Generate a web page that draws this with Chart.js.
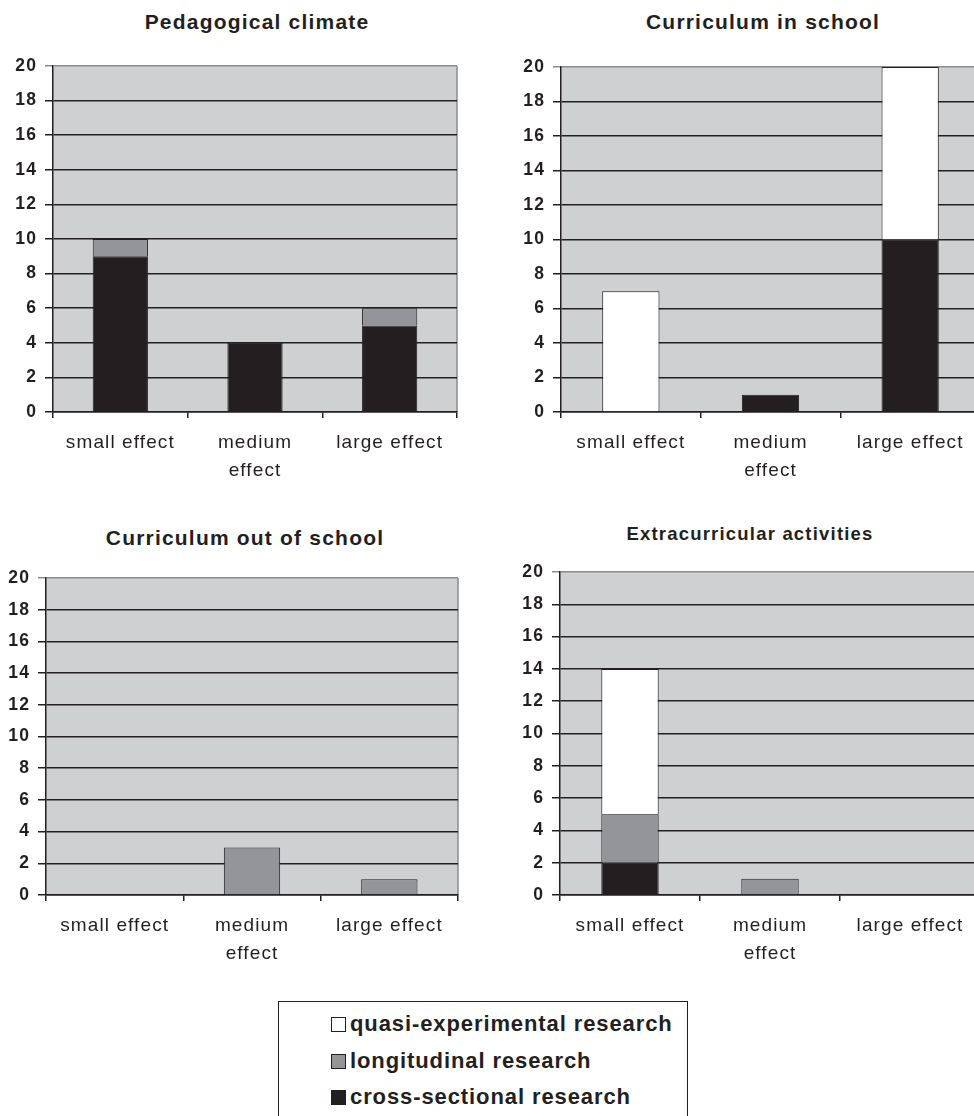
<!DOCTYPE html>
<html>
<head>
<meta charset="utf-8">
<script src="https://cdn.jsdelivr.net/npm/chart.js@4"></script>
<style>
  html, body { margin: 0; padding: 0; background: #fff; overflow: hidden; }
  body { width: 974px; height: 1116px; position: relative; font-family: "Liberation Sans", Arial, sans-serif; color: #231f20; }
  .box { position: absolute; }
  .title { position: absolute; font-weight: bold; white-space: nowrap; transform: translate(-50%, -50%); letter-spacing: 1.2px; }
  #legend { position: absolute; left: 278px; top: 1001px; width: 410px; height: 140px; border: 1.5px solid #231f20; box-sizing: border-box; }
  .item { position: absolute; left: 52px; font-weight: bold; font-size: 22px; letter-spacing: 0.9px; white-space: nowrap; transform: translateY(-50%); }
  .sw { display: inline-block; width: 15px; height: 15px; border: 1px solid #231f20; margin-right: 4px; vertical-align: -1px; box-sizing: border-box; }
</style>
</head>
<body>
<div class="title" style="left:257px; top:22px; font-size:21px;">Pedagogical climate</div>
<div class="title" style="left:763px; top:22px; font-size:21px;">Curriculum in school</div>
<div class="title" style="left:245px; top:538px; font-size:21px;">Curriculum out of school</div>
<div class="title" style="left:750px; top:534px; font-size:18.5px;">Extracurricular activities</div>

<div class="box" style="left:0; top:0; width:487px; height:500px;"><canvas id="c1"></canvas></div>
<div class="box" style="left:487px; top:0; width:500px; height:500px;"><canvas id="c2"></canvas></div>
<div class="box" style="left:0; top:500px; width:487px; height:480px;"><canvas id="c3"></canvas></div>
<div class="box" style="left:487px; top:500px; width:500px; height:480px;"><canvas id="c4"></canvas></div>

<div id="legend"></div>

<script>
// ---------- data ----------
const categories = ["small effect", ["medium", "effect"], "large effect"];
const seriesNames = ["cross-sectional research", "longitudinal research", "quasi-experimental research"];
const seriesColors = ["#231f20", "#939598", "#ffffff"];
const yTicks = { min: 0, max: 20, step: 2 };

// Pedagogical climate
const pedCross = [9, 4, 5];
const pedLong = [1, 0, 1];
const pedQuasi = [0, 0, 0];

// Curriculum in school
const inCross = [0, 1, 10];
const inLong = [0, 0, 0];
const inQuasi = [7, 0, 10];

// Curriculum out of school
const outCross = [0, 0, 0];
const outLong = [0, 3, 1];
const outQuasi = [0, 0, 0];

// Extracurricular activities
const extCross = [2, 0, 0];
const extLong = [3, 1, 0];
const extQuasi = [9, 0, 0];

// ---------- helpers ----------
const ink = "#231f20";

const plotBg = {
  id: "plotBg",
  beforeDraw(chart) {
    const { ctx, chartArea: a } = chart;
    ctx.letterSpacing = "1.1px"; // the scan has wide letters
    ctx.save();
    ctx.fillStyle = "#cfd0d2";
    ctx.fillRect(a.left, a.top, a.right - a.left, a.bottom - a.top);
    ctx.strokeStyle = "#8a8c8e";
    ctx.lineWidth = 1.5;
    ctx.beginPath();
    ctx.moveTo(a.right, a.top);
    ctx.lineTo(a.right, a.bottom);
    ctx.stroke();
    ctx.restore();
  }
};

const makeChart = (id, data, box) => {
  const datasets = data.map((vals, i) => ({
    label: seriesNames[i],
    data: vals,
    backgroundColor: seriesColors[i],
    borderColor: ink,
    borderWidth: 1,
    barPercentage: 0.41,
    categoryPercentage: 1
  }));
  return new Chart(document.getElementById(id), {
    type: "bar",
    data: { labels: categories, datasets },
    plugins: [plotBg],
    options: {
      responsive: true,
      maintainAspectRatio: false,
      animation: false,
      layout: { padding: { top: box.top, right: box.right, left: 0, bottom: 0 } },
      plugins: { legend: { display: false }, tooltip: { enabled: false } },
      scales: {
        x: {
          stacked: true,
          afterFit: s => { s.height = box.xh; },
          grid: { offset: true, drawOnChartArea: false, tickLength: 6, color: ink, lineWidth: 1.5 },
          border: { display: true, color: ink, width: 1.5 },
          ticks: { color: ink, padding: 11, maxRotation: 0, font: { family: "Liberation Sans", size: 19, lineHeight: 1.45 } }
        },
        y: {
          stacked: true,
          min: yTicks.min,
          max: yTicks.max,
          afterFit: s => { s.width = box.yw; },
          grid: {
            color: c => (c.tick && c.tick.value === yTicks.max ? "#8a8c8e" : ink),
            lineWidth: 1.5,
            tickLength: 8
          },
          border: { display: true, color: ink, width: 1.5 },
          ticks: { stepSize: yTicks.step, color: ink, padding: 8, font: { family: "Liberation Sans", size: 17.5, weight: "bold" } }
        }
      }
    }
  });
};

makeChart("c1", [pedCross, pedLong, pedQuasi], { top: 66, right: 30, yw: 53, xh: 88 });
makeChart("c2", [inCross, inLong, inQuasi], { top: 67, right: 7, yw: 74, xh: 88 });
makeChart("c3", [outCross, outLong, outQuasi], { top: 78, right: 29, yw: 46, xh: 85 });
makeChart("c4", [extCross, extLong, extQuasi], { top: 72, right: 7, yw: 73, xh: 85 });

// ---------- legend ----------
const legend = document.getElementById("legend");
const legendOrder = [2, 1, 0]; // top to bottom as in the figure
legendOrder.forEach((si, row) => {
  const d = document.createElement("div");
  d.className = "item";
  d.style.top = (22 + row * 36.5) + "px";
  d.innerHTML = `<span class="sw" style="background:${seriesColors[si]}"></span>${seriesNames[si]}`;
  legend.appendChild(d);
});
</script>
</body>
</html>
